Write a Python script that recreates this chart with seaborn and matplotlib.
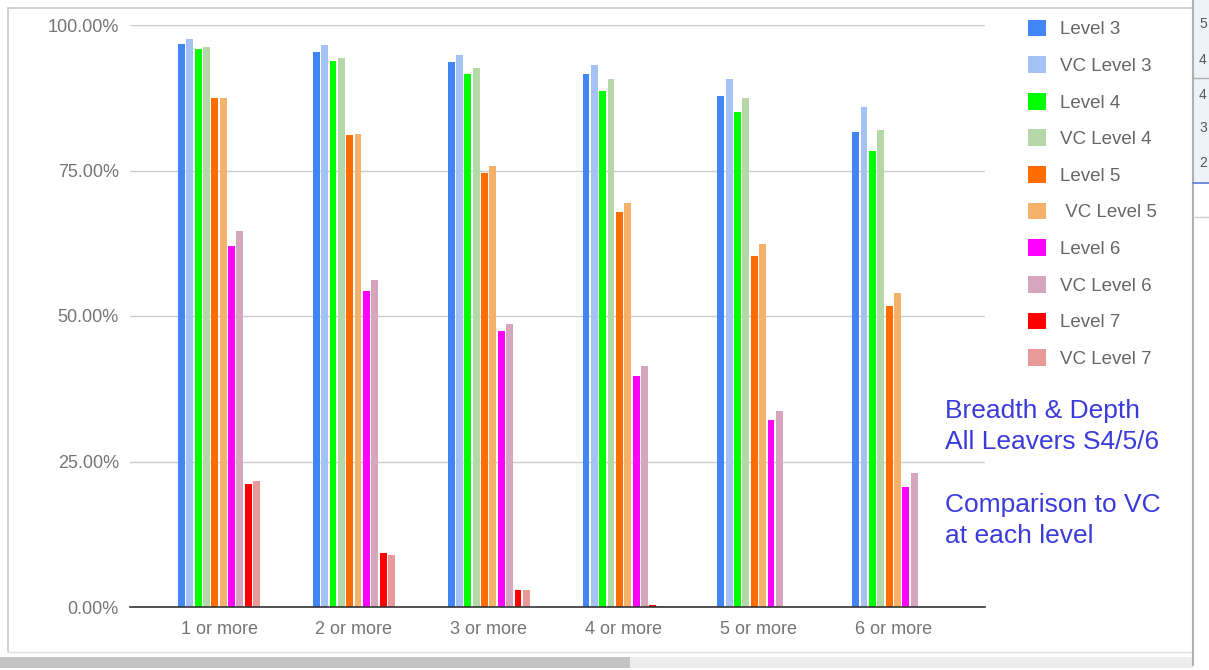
import matplotlib
matplotlib.use("Agg")
import matplotlib.pyplot as plt
from matplotlib.patches import Patch, Rectangle
from matplotlib.lines import Line2D
import seaborn as sns
import pandas as pd

# Categories and series
categories = ["1 or more", "2 or more", "3 or more", "4 or more", "5 or more", "6 or more"]
series = ["Level 3", "VC Level 3", "Level 4", "VC Level 4", "Level 5", " VC Level 5",
          "Level 6", "VC Level 6", "Level 7", "VC Level 7"]
colors = ["#4285f4", "#a4c2f4", "#00ff00", "#b6d7a8", "#ff6d01", "#f6b26b",
          "#ff00ff", "#d5a6bd", "#ff0000", "#ea9999"]

# Percentage of leavers reaching each level (per series, across categories)
level3 = [96.7, 95.3, 93.6, 91.6, 87.8, 81.6]
vc_level3 = [97.6, 96.5, 94.9, 93.2, 90.7, 85.9]
level4 = [95.9, 93.9, 91.6, 88.7, 85.0, 78.3]
vc_level4 = [96.2, 94.4, 92.6, 90.8, 87.5, 81.9]
level5 = [87.4, 81.1, 74.5, 67.8, 60.3, 51.8]
vc_level5 = [87.5, 81.3, 75.8, 69.4, 62.3, 53.9]
level6 = [62.0, 54.3, 47.4, 39.7, 32.2, 20.6]
vc_level6 = [64.6, 56.1, 48.7, 41.4, 33.7, 23.0]
level7 = [21.1, 9.3, 3.0, 0.3, 0.0, 0.0]
vc_level7 = [21.6, 9.0, 3.0, 0.2, 0.0, 0.0]

values = [level3, vc_level3, level4, vc_level4, level5, vc_level5,
          level6, vc_level6, level7, vc_level7]

rows = []
for name, vals in zip(series, values):
    for cat, v in zip(categories, vals):
        rows.append({"category": cat, "series": name, "value": v})
df = pd.DataFrame(rows)

sns.set_theme(style="white")
plt.rcParams["font.family"] = ["Liberation Sans", "DejaVu Sans"]

W, H = 1209, 670
fig = plt.figure(figsize=(W / 100, H / 100), dpi=100)
fig.patch.set_facecolor("white")

ax = fig.add_axes([130 / W, 1 - 607 / H, (985 - 130) / W, (607 - 25) / H])

sns.barplot(data=df, x="category", y="value", hue="series", order=categories,
            hue_order=series, palette=colors, saturation=1, width=0.62, gap=0.18,
            linewidth=0, legend=False, ax=ax, zorder=3)

ax.set_ylim(0, 100)
ax.set_xlim(-0.66, 5.68)
ax.set_yticks([0, 25, 50, 75, 100])
ax.set_yticklabels([f"{t:.2f}%" for t in [0, 25, 50, 75, 100]])
ax.set_xlabel("")
ax.set_ylabel("")
ax.tick_params(axis="both", length=0, colors="#757575", labelsize=13)
ax.tick_params(axis="y", pad=8)
ax.tick_params(axis="x", pad=10)
ax.grid(axis="y", color="#cccccc", linewidth=1, zorder=0)
ax.grid(axis="x", visible=False)
for side in ["top", "right", "left"]:
    ax.spines[side].set_visible(False)
ax.spines["bottom"].set_color("#333333")
ax.spines["bottom"].set_linewidth(1.2)
ax.spines["bottom"].set_zorder(4)

# Legend on the right
handles = [Patch(facecolor=c, edgecolor="none") for c in colors]
leg = fig.legend(handles, series, loc="upper left",
                 bbox_to_anchor=(1020 / W, 1 - 12 / H), bbox_transform=fig.transFigure,
                 frameon=False, fontsize=13.5, handlelength=1.0, handleheight=1.0,
                 handletextpad=0.73, labelspacing=0.95, borderaxespad=0)
for t in leg.get_texts():
    t.set_color("#666666")

# Caption block
fig.text(945 / W, 1 - 399 / H,
         "Breadth & Depth\nAll Leavers S4/5/6\n\nComparison to VC\nat each level",
         color="#3b3bdc", fontsize=19, ha="left", va="top", linespacing=1.38)

# Window frame around the chart
frame_kw = dict(transform=fig.transFigure, color="#c8c8c8", linewidth=1.2)
fig.add_artist(Line2D([8 / W, 1193 / W], [1 - 8 / H, 1 - 8 / H], **frame_kw))
fig.add_artist(Line2D([8 / W, 8 / W], [1 - 8 / H, 1 - 652 / H], **frame_kw))
fig.add_artist(Line2D([8 / W, 1193 / W], [1 - 652 / H, 1 - 652 / H],
                      transform=fig.transFigure, color="#e0e0e0", linewidth=1))

# Neighbouring panel edge on the far right
fig.add_artist(Rectangle((1193 / W, 1 - 183 / H), 16 / W, 183 / H, transform=fig.transFigure,
                         facecolor="#eef2f9", edgecolor="none"))
fig.add_artist(Line2D([1193 / W, 1193 / W], [1.0, 1 - 665 / H],
                      transform=fig.transFigure, color="#b0b0b0", linewidth=1.5))
for y, s in zip([24, 60, 95, 128, 163], ["5", "4", "4", "3", "2"]):
    fig.text(1199 / W, 1 - y / H, s, color="#555555", fontsize=10, ha="left", va="center")
fig.add_artist(Line2D([1193 / W, 1.0], [1 - 78 / H, 1 - 78 / H],
                      transform=fig.transFigure, color="#b0b0b0", linewidth=1))
fig.add_artist(Line2D([1193 / W, 1.0], [1 - 183 / H, 1 - 183 / H],
                      transform=fig.transFigure, color="#5b7bd5", linewidth=1.2))
fig.add_artist(Line2D([1193 / W, 1.0], [1 - 217 / H, 1 - 217 / H],
                      transform=fig.transFigure, color="#d0d0d0", linewidth=1))

# Scroll bar along the bottom
fig.add_artist(Rectangle((0, 1 - 668 / H), 630 / W, 11 / H, transform=fig.transFigure,
                         facecolor="#c4c4c4", edgecolor="none"))
fig.add_artist(Rectangle((630 / W, 1 - 668 / H), 563 / W, 11 / H, transform=fig.transFigure,
                         facecolor="#ececec", edgecolor="none"))

fig.savefig("out.png", dpi=100)
